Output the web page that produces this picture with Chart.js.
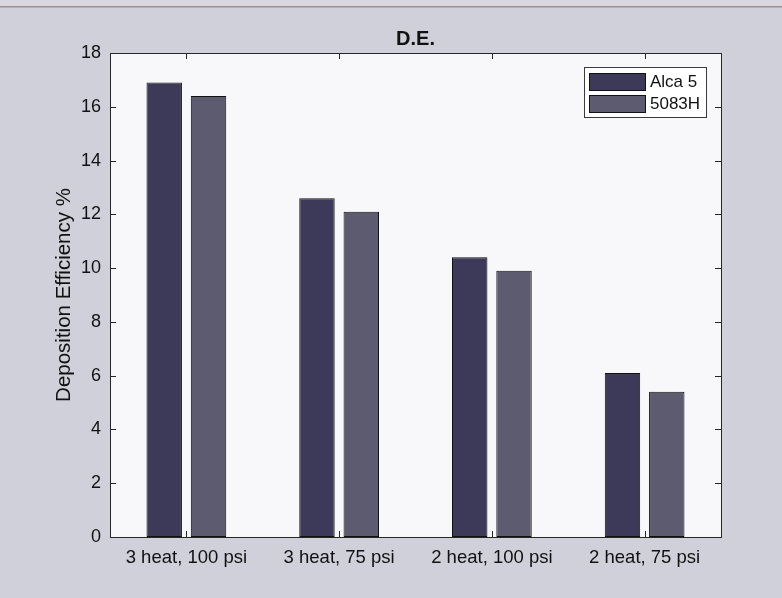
<!DOCTYPE html>
<html>
<head>
<meta charset="utf-8">
<script src="https://cdn.jsdelivr.net/npm/chart.js@4.4.0/dist/chart.umd.min.js"></script>
<style>
  html, body { margin: 0; padding: 0; background: #d0d0da; }
  #wrap { width: 782px; height: 598px; }
</style>
</head>
<body>
<div id="wrap"><canvas id="c" width="782" height="598"></canvas></div>
<script>
// Deposition efficiency per spray condition
const categories = ['3 heat, 100 psi', '3 heat, 75 psi', '2 heat, 100 psi', '2 heat, 75 psi'];
const seriesNames = ['Alca 5', '5083H'];
const alca5 = [16.9, 12.6, 10.4, 6.1];
const h5083 = [16.4, 12.1, 9.9, 5.4];
const yMin = 0, yMax = 18, yStep = 2;

const FONT = "'Liberation Sans', Arial, Helvetica, sans-serif";
const BG = '#d0d0da';
const PLOT_BG = '#f8f8fa';
const FRAME = '#262626';
const TICK_LEN = 6;

// Figure background, top rule and white axes area
const backdrop = {
  id: 'backdrop',
  beforeDraw(chart) {
    const { ctx, chartArea: a, width, height } = chart;
    ctx.save();
    ctx.fillStyle = BG;
    ctx.fillRect(0, 0, width, height);
    ctx.fillStyle = '#dad8de';
    ctx.fillRect(0, 0, width, 6);
    ctx.fillStyle = '#9a9192';
    ctx.fillRect(0, 6, width, 1.5);
    ctx.fillStyle = PLOT_BG;
    ctx.fillRect(a.left, a.top, a.right - a.left, a.bottom - a.top);
    ctx.restore();
  }
};

// Box around the axes with inward tick marks on all four sides
const axesBox = {
  id: 'axesBox',
  afterDatasetsDraw(chart) {
    const { ctx, chartArea: a, scales } = chart;
    ctx.save();
    ctx.strokeStyle = FRAME;
    ctx.lineWidth = 1;
    ctx.strokeRect(Math.round(a.left) + 0.5, Math.round(a.top) + 0.5,
                   Math.round(a.right - a.left), Math.round(a.bottom - a.top));
    ctx.beginPath();
    scales.x.ticks.forEach((t, i) => {
      const px = Math.round(scales.x.getPixelForTick(i)) + 0.5;
      ctx.moveTo(px, a.bottom); ctx.lineTo(px, a.bottom - TICK_LEN);
      ctx.moveTo(px, a.top); ctx.lineTo(px, a.top + TICK_LEN);
    });
    scales.y.ticks.forEach((t, i) => {
      const py = Math.round(scales.y.getPixelForTick(i)) + 0.5;
      ctx.moveTo(a.left, py); ctx.lineTo(a.left + TICK_LEN, py);
      ctx.moveTo(a.right, py); ctx.lineTo(a.right - TICK_LEN, py);
    });
    ctx.stroke();
    ctx.restore();
  }
};

// Boxed legend in the upper right corner of the axes
const boxLegend = {
  id: 'boxLegend',
  afterDraw(chart) {
    const { ctx, chartArea: a } = chart;
    const ds = chart.data.datasets;
    const boxRight = a.right - 15, boxTop = a.top + 14;
    const boxW = 122, rowH = 22, swW = 56, swH = 17;
    const boxH = 6 + (ds.length - 1) * rowH + swH + 5;
    const boxLeft = boxRight - boxW;
    ctx.save();
    ctx.fillStyle = '#ffffff';
    ctx.fillRect(boxLeft, boxTop, boxW, boxH);
    ctx.strokeStyle = '#3a3a3a';
    ctx.lineWidth = 1;
    ctx.strokeRect(boxLeft + 0.5, boxTop + 0.5, boxW, boxH);
    ctx.font = '17px ' + FONT;
    ctx.textBaseline = 'middle';
    ctx.textAlign = 'left';
    ds.forEach((d, i) => {
      const y = boxTop + 6 + i * rowH;
      ctx.fillStyle = d.backgroundColor;
      ctx.fillRect(boxLeft + 5, y, swW, swH);
      ctx.strokeStyle = '#111';
      ctx.strokeRect(boxLeft + 5.5, y + 0.5, swW, swH);
      ctx.fillStyle = '#111';
      ctx.fillText(d.label, boxLeft + swW + 10, y + swH / 2 + 1);
    });
    ctx.restore();
  }
};

new Chart(document.getElementById('c'), {
  type: 'bar',
  data: {
    labels: categories,
    datasets: [
      { label: seriesNames[0], data: alca5, backgroundColor: '#3c3a58',
        borderColor: '#111', borderWidth: 1, borderSkipped: false },
      { label: seriesNames[1], data: h5083, backgroundColor: '#5c5b6f',
        borderColor: '#111', borderWidth: 1, borderSkipped: false }
    ]
  },
  options: {
    responsive: false,
    animation: false,
    layout: { padding: { left: 0, right: 61, top: 0, bottom: 0 } },
    datasets: { bar: { categoryPercentage: 0.58, barPercentage: 0.8 } },
    plugins: {
      legend: { display: false },
      tooltip: { enabled: false },
      title: {
        display: true,
        text: 'D.E.',
        fullSize: false,
        color: '#111',
        font: { family: FONT, size: 20, weight: 'bold' },
        padding: { top: 27, bottom: 2 }
      }
    },
    scales: {
      x: {
        grid: { display: false, drawTicks: false },
        border: { display: false },
        ticks: { color: '#111', padding: 10, maxRotation: 0,
                 font: { family: FONT, size: 18.5 } },
        afterFit(s) { s.height = 61; }
      },
      y: {
        min: yMin, max: yMax,
        grid: { display: false, drawTicks: false },
        border: { display: false },
        ticks: { stepSize: yStep, color: '#111', padding: 9,
                 font: { family: FONT, size: 18 } },
        title: {
          display: true,
          text: 'Deposition Efficiency %',
          color: '#111',
          font: { family: FONT, size: 20.5 },
          padding: { top: 52, bottom: 0 }
        },
        afterFit(s) { s.width = 110; }
      }
    }
  },
  plugins: [backdrop, axesBox, boxLegend]
});
</script>
</body>
</html>
